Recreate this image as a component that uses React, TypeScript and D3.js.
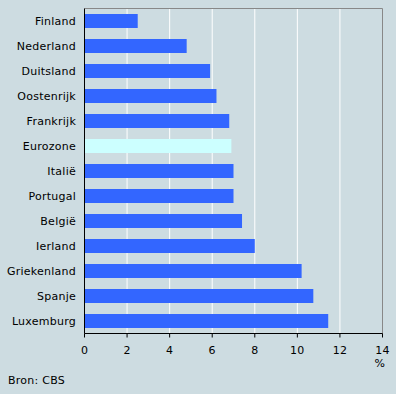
import React, { useEffect, useRef } from 'react';
import * as d3 from 'd3';

const countries = [
  'Finland', 'Nederland', 'Duitsland', 'Oostenrijk', 'Frankrijk', 'Eurozone',
  'Italië', 'Portugal', 'België', 'Ierland', 'Griekenland', 'Spanje', 'Luxemburg',
];
const values = [2.5, 4.8, 5.9, 6.2, 6.8, 6.9, 7.0, 7.0, 7.4, 8.0, 10.2, 10.75, 11.45];
const highlight = 'Eurozone';
const xTicks = [0, 2, 4, 6, 8, 10, 12, 14];

const FONT = 'DejaVu Sans, Verdana, sans-serif';

function App() {
  const ref = useRef<SVGSVGElement>(null);

  useEffect(() => {
    const width = 396;
    const height = 394;
    const left = 84.5, right = 382.5, top = 8.5, bottom = 333.5;

    const svg = d3.select(ref.current);
    svg.selectAll('*').remove();

    svg.append('rect').attr('width', width).attr('height', height).attr('fill', '#cddce1');

    const x = d3.scaleLinear().domain([0, 14]).range([left, right]);
    const y = d3.scaleBand<string>().domain(countries).range([top, bottom]).paddingInner(0.44).paddingOuter(0.22);

    // grid
    svg.append('g')
      .selectAll('line')
      .data(xTicks.slice(1, -1))
      .join('line')
      .attr('x1', d => x(d)).attr('x2', d => x(d))
      .attr('y1', top).attr('y2', bottom)
      .attr('stroke', '#fff').attr('stroke-width', 1);

    // frame top + right
    svg.append('path')
      .attr('d', `M${left},${top}H${right}V${bottom}`)
      .attr('fill', 'none').attr('stroke', '#888').attr('stroke-width', 1);

    // bars
    svg.append('g')
      .selectAll('rect')
      .data(countries)
      .join('rect')
      .attr('x', x(0))
      .attr('y', d => Math.round(y(d)!))
      .attr('width', (d, i) => x(values[i]) - x(0))
      .attr('height', Math.round(y.bandwidth()))
      .attr('fill', d => d === highlight ? '#ccffff' : '#3366ff');

    // y labels
    svg.append('g')
      .selectAll('text')
      .data(countries)
      .join('text')
      .attr('x', 76)
      .attr('y', d => y(d)! + y.bandwidth() / 2)
      .attr('dy', '0.35em')
      .attr('text-anchor', 'end')
      .style('font-family', FONT)
      .style('font-size', '11px')
      .style('letter-spacing', '0.25px')
      .text(d => d);

    // axes lines
    svg.append('line').attr('x1', left).attr('x2', left).attr('y1', top).attr('y2', bottom)
      .attr('stroke', '#000');
    svg.append('line').attr('x1', left).attr('x2', right).attr('y1', bottom).attr('y2', bottom)
      .attr('stroke', '#000');

    const ticks = svg.append('g');
    ticks.selectAll('line')
      .data(xTicks)
      .join('line')
      .attr('x1', d => x(d)).attr('x2', d => x(d))
      .attr('y1', bottom).attr('y2', bottom + 4)
      .attr('stroke', '#000');
    ticks.selectAll('text')
      .data(xTicks)
      .join('text')
      .attr('x', d => x(d))
      .attr('y', 350)
      .attr('dy', '0.35em')
      .attr('text-anchor', 'middle')
      .style('font-family', FONT)
      .style('font-size', '11px')
      .style('letter-spacing', '0.25px')
      .text(d => d);

    svg.append('text')
      .attr('x', 385).attr('y', 363).attr('dy', '0.35em')
      .attr('text-anchor', 'end')
      .style('font-family', FONT)
      .style('font-size', '11px')
      .text('%');

    svg.append('text')
      .attr('x', 8).attr('y', 380).attr('dy', '0.35em')
      .style('font-family', FONT)
      .style('font-size', '11px')
      .style('letter-spacing', '0.25px')
      .text('Bron: CBS');
  }, []);

  return (
    <svg ref={ref} width={396} height={394}
      style={{ position: 'absolute', left: 0, top: 0, display: 'block' }} />
  );
}

export default App;
